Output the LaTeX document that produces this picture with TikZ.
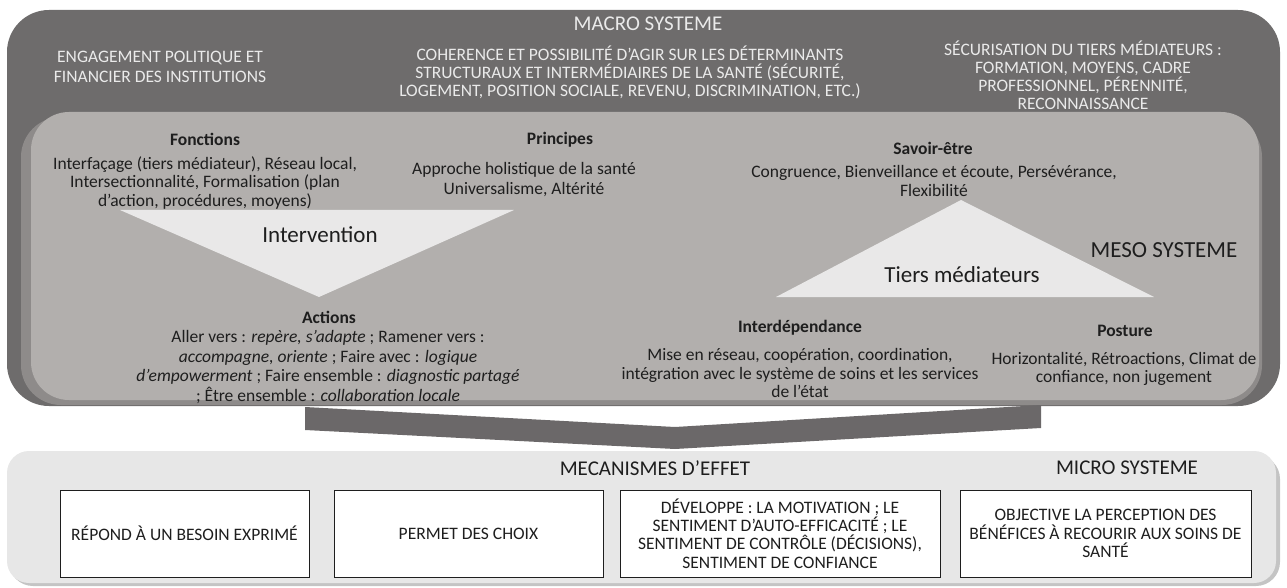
\documentclass[tikz,border=0pt]{standalone}
\usepackage{fontspec}
\setmainfont{Carlito}
\definecolor{macroC}{HTML}{6E6C6C}
\definecolor{mesoC}{HTML}{B2AFAD}
\definecolor{mesoShadow}{HTML}{8E8B8A}
\definecolor{triC}{HTML}{E9E8E8}
\definecolor{chevC}{HTML}{6B6869}
\definecolor{microC}{HTML}{E7E7E7}
\definecolor{microShadow}{HTML}{C4C4C4}
\definecolor{lightT}{HTML}{EAEAEA}
\definecolor{darkT}{HTML}{1E1E1E}
\begin{document}
\lineskiplimit=-100pt
\begin{tikzpicture}[x=1pt,y=-1pt,
  body/.style={align=center,text=darkT,font=\fontsize{17.5}{18.5}\selectfont,inner sep=0pt},
  head/.style={align=center,text=darkT,font=\fontsize{17.5}{18}\selectfont\bfseries,inner sep=0pt},
  macrotxt/.style={align=center,text=lightT,font=\fontsize{17.5}{18}\selectfont,inner sep=0pt},
  big/.style={text=darkT,font=\fontsize{23}{24}\selectfont,inner sep=0pt},
  effbox/.style={draw=darkT,line width=1pt,fill=white,align=center,text=darkT,
     font=\fontsize{17.5}{18.3}\selectfont,inner sep=0pt,minimum height=87pt}
]
\useasboundingbox (0,0) rectangle (1287,588);
% MACRO
\fill[macroC, rounded corners=42] (7,10) rectangle (1280,406);
% MESO (shadow + face)
\fill[mesoShadow, rounded corners=40] (21,117) rectangle (1262,405);
\fill[mesoC, rounded corners=38] (31,112) rectangle (1259,400);
% MICRO
\fill[microShadow, rounded corners=24] (9,455) rectangle (1280,586);
\fill[microC, rounded corners=22] (7,451) rectangle (1276,583);

% macro texts
\node[macrotxt,font=\fontsize{21}{23}\selectfont] (macro) at (648,24) {MACRO SYSTEME};
\node[macrotxt,font=\fontsize{17.5}{20}\selectfont] (mac1) at (160,67) {ENGAGEMENT POLITIQUE ET\\FINANCIER DES INSTITUTIONS};
\node[macrotxt] (mac2) at (630,72) {COHERENCE ET POSSIBILITÉ D’AGIR SUR LES DÉTERMINANTS\\STRUCTURAUX ET INTERMÉDIAIRES DE LA SANTÉ (SÉCURITÉ,\\LOGEMENT, POSITION SOCIALE, REVENU, DISCRIMINATION, ETC.)};
\node[macrotxt] (mac3) at (1083,75) {SÉCURISATION DU TIERS MÉDIATEURS :\\FORMATION, MOYENS, CADRE\\PROFESSIONNEL, PÉRENNITÉ,\\RECONNAISSANCE};

% triangles
\fill[triC] (120,210) -- (514,210) -- (319,297) -- cycle;
\fill[triC] (961,200) -- (1154,297) -- (776,297) -- cycle;
\node[big] (interv) at (320,235) {Intervention};
\node[big] (tiers) at (962,275) {Tiers médiateurs};
\node[big] (meso) at (1164,250) {MESO SYSTEME};

% meso texts
\node[head] (fonctH) at (205,139) {Fonctions};
\node[body] (fonct) at (205,183) {Interfaçage (tiers médiateur), Réseau local,\\Intersectionnalité, Formalisation (plan\\d’action, procédures, moyens)};
\node[head] (princH) at (560,140) {Principes};
\node[body,font=\fontsize{17.5}{20}\selectfont] (princ) at (524,180) {Approche holistique de la santé\\Universalisme, Altérité};
\node[head] (savH) at (933,148) {Savoir-être};
\node[body] (sav) at (934,181) {Congruence, Bienveillance et écoute, Persévérance,\\Flexibilité};
\node[head] (actH) at (329,317) {Actions};
\node[body,font=\fontsize{17.5}{19.5}\selectfont] (act) at (328,367) {Aller vers : \textit{repère, s’adapte} ; Ramener vers :\\\textit{accompagne, oriente} ; Faire avec : \textit{logique}\\\textit{d’empowerment} ; Faire ensemble : \textit{diagnostic partagé}\\; Être ensemble : \textit{collaboration locale}};
\node[head] (interH) at (800,328) {Interdépendance};
\node[body] (inter) at (800,373) {Mise en réseau, coopération, coordination,\\intégration avec le système de soins et les services\\de l’état};
\node[head] (postH) at (1125,331) {Posture};
\node[body] (post) at (1124,369) {Horizontalité, Rétroactions, Climat de\\confiance, non jugement};

% chevron
\fill[chevC] (305,407) -- (675,427) -- (1041,405) -- (1041,428) -- (675,449) -- (305,430) -- cycle;

% micro
\node[big,font=\fontsize{21}{23}\selectfont] (meca) at (655,468) {MECANISMES D’EFFET};
\node[big,font=\fontsize{21}{23}\selectfont] (micro) at (1127,468) {MICRO SYSTEME};
\node[effbox,minimum width=249pt] (b1) at (184.5,533.5) {RÉPOND À UN BESOIN EXPRIMÉ};
\node[effbox,minimum width=269pt] (b2) at (468.5,533.5) {PERMET DES CHOIX};
\node[effbox,minimum width=320pt] (b3) at (780,533.5) {DÉVELOPPE : LA MOTIVATION ; LE\\SENTIMENT D’AUTO-EFFICACITÉ ; LE\\SENTIMENT DE CONTRÔLE (DÉCISIONS),\\SENTIMENT DE CONFIANCE};
\node[effbox,minimum width=291pt] (b4) at (1105.5,533.5) {OBJECTIVE LA PERCEPTION DES\\BÉNÉFICES À RECOURIR AUX SOINS DE\\SANTÉ};
\end{tikzpicture}
\end{document}
